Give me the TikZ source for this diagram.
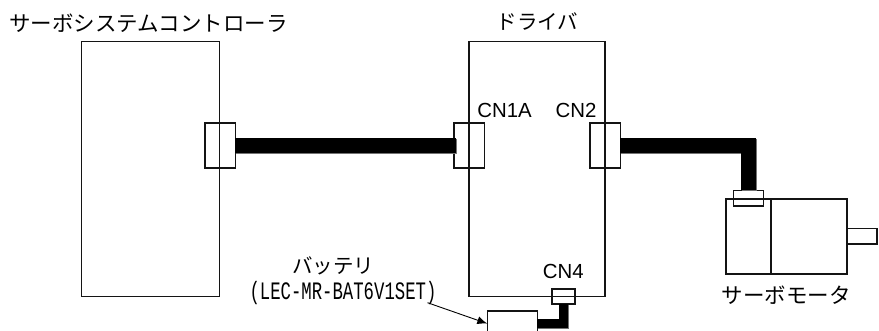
\documentclass[tikz,border=0pt]{standalone}
\usepackage{graphicx}
\usepackage{fontspec}
\setmainfont{Liberation Sans}
\newfontfamily\jpfont{Noto Sans CJK JP}
\newfontfamily\halfmono{Liberation Mono}
\usetikzlibrary{arrows.meta}
\definecolor{linegrey}{gray}{0.08}
\tikzset{
  x=1pt,y=-1pt,
  box/.style={draw=linegrey,line width=1.5pt,rectangle,inner sep=0pt,outer sep=0pt},
  cablefill/.style={draw=black,line width=14.6pt,line join=miter},
  cableedge/.style={draw=black!55,line width=14.6pt,line join=miter},
  thincablefill/.style={draw=black,line width=8.6pt,line join=miter},
  thincableedge/.style={draw=black!55,line width=8.6pt,line join=miter},
  jp/.style={inner sep=0pt,font=\jpfont\fontsize{21.5}{22}\selectfont},
  jps/.style={inner sep=0pt,font=\jpfont\fontsize{20.5}{21}\selectfont},
  cn/.style={inner sep=0pt,font=\fontsize{20.4}{21}\selectfont},
  partno/.style={inner sep=0pt,font=\halfmono\fontsize{17.3}{18}\selectfont},
}
\begin{document}
\begin{tikzpicture}
\useasboundingbox (0,0) rectangle (879,331);
\clip (0,0) rectangle (879,331);
% main boxes
\node[box,minimum width=138pt,minimum height=255pt] (ctrl) at (150.5,169) {};
\node[box,minimum width=136pt,minimum height=255pt] (drv) at (537,169) {};
% connectors
\node[box,minimum width=30.5pt,minimum height=45pt] (c1) at (220,145.3) {};
\node[box,minimum width=30.5pt,minimum height=45pt] (cn1a) at (469,145.3) {};
\node[box,minimum width=30.5pt,minimum height=45pt] (cn2) at (605,145.3) {};
\node[box,minimum width=23pt,minimum height=15pt] (cn4) at (563.5,296.5) {};
% motor
\node[box,minimum width=45pt,minimum height=75pt] (motl) at (748.5,236.5) {};
\node[box,minimum width=75.7pt,minimum height=75pt] (motr) at (808.9,236.5) {};
\node[box,minimum width=30pt,minimum height=15.5pt] (shaft) at (861.8,236.3) {};
\node[box,minimum width=30.4pt,minimum height=15.5pt] (motc) at (748.5,198.4) {};
% battery
\node[box,minimum width=50pt,minimum height=25.2pt] (bat) at (512.3,323.6) {};
% cables
\coordinate (c1end) at ([xshift=2pt]cn1a.west);
\coordinate (motend) at ([yshift=1pt]motc.north);
\draw[cableedge] ([shift={(0.8,1)}]c1.east) -- ([shift={(0.8,1)}]c1end);
\draw[cablefill] (c1.east) -- (c1end);
\draw[cableedge] ([shift={(0.8,1)}]cn2.east) -| ([shift={(0.8,1)}]motend);
\draw[cablefill] (cn2.east) -| (motend);
\draw[thincableedge] ([shift={(0.8,1)}]bat.east) -| ([shift={(0.8,1)}]cn4.south);
\draw[thincablefill] (bat.east) -| (cn4.south);
% arrow
\coordinate (arrstart) at (427.5,302.7);
\draw[line width=0.9pt,-{Latex[length=10pt,width=8pt]}] (arrstart) -- (bat.west);
% labels
\node[jp] (lctrl) at (148.5,23) {サーボシステムコントローラ};
\node[jps] (ldrv) at (537.5,22) {ドライバ};
\node[jps] (lbat) at (333,266) {バッテリ};
\node[partno] (lpart) at (343,293) {\scalebox{1}[1.45]{(LEC-MR-BAT6V1SET)}};
\node[jp] (lmot) at (786,295) {サーボモータ};
\node[cn] (l1a) at (504.5,110) {CN1A};
\node[cn] (l2) at (576,110) {CN2};
\node[cn] (l4) at (563.3,271.5) {CN4};
\end{tikzpicture}
\end{document}
